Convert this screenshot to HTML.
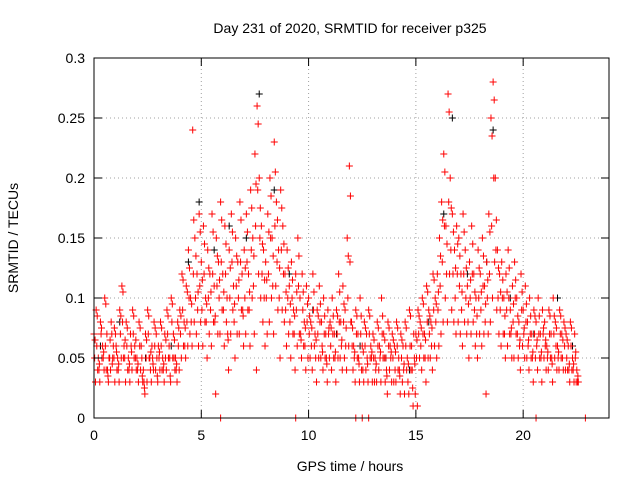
<!DOCTYPE html>
<html><head><meta charset="utf-8"><style>
body{margin:0;background:#fff;}
svg{display:block;font-family:"Liberation Sans",sans-serif;}
</style></head><body>
<svg id="chart" width="640" height="480">
<text x="350" y="33" font-size="14" text-anchor="middle">Day 231 of 2020, SRMTID for receiver p325</text>
<text x="18" y="238" font-size="14" text-anchor="middle" transform="rotate(-90 18 238)">SRMTID / TECUs</text>
<text x="350" y="471" font-size="14" text-anchor="middle">GPS time / hours</text>
<g id="grid"></g>
<g id="marks"></g>
<g id="axes"></g>
</svg>
<script>
const xTicks=[0,5,10,15,20];
const yTicks=[0,0.05,0.1,0.15,0.2,0.25,0.3];
const yTickLabels=["0","0.05","0.1","0.15","0.2","0.25","0.3"];
const sampleStep=0.1;
const seriesA=[.07,.09,.05,.08,.06,.1,.07,.05,.08,.06,
.07,.05,.09,.11,.06,.08,.05,.07,.09,.06,
.05,.08,.06,.04,.07,.09,.05,.06,.08,.07,
.06,.08,.05,.07,.09,.06,.1,.07,.05,.08,
.09,.12,.08,.11,.14,.1,.24,.15,.12,.17,
.13,.16,.1,.14,.12,.17,.11,.15,.13,.18,
.12,.16,.1,.14,.17,.11,.15,.13,.18,.12,
.14,.17,.12,.19,.15,.22,.26,.2,.16,.14,
.13,.17,.2,.15,.23,.18,.14,.19,.16,.12,
.14,.11,.13,.09,.12,.15,.1,.12,.08,.11,
.1,.08,.12,.07,.09,.11,.08,.1,.07,.09,
.08,.1,.07,.09,.12,.08,.11,.09,.15,.21,
.08,.06,.09,.07,.1,.06,.08,.07,.09,.06,
.07,.05,.08,.06,.1,.07,.05,.08,.06,.07,
.06,.08,.05,.07,.06,.08,.05,.09,.06,.07,
.07,.09,.08,.1,.07,.11,.09,.08,.12,.1,
.12,.15,.18,.22,.16,.27,.2,.17,.14,.16,
.15,.12,.17,.14,.11,.13,.16,.12,.1,.14,
.12,.15,.11,.13,.17,.25,.28,.2,.14,.12,
.13,.1,.12,.14,.09,.11,.13,.1,.08,.12,
.09,.11,.08,.1,.07,.09,.08,.1,.07,.09,
.08,.06,.09,.07,.1,.08,.06,.09,.07,.08,
.07,.06,.08,.05,.07,.04];
const seriesB=[.05,.06,.04,.07,.05,.06,.04,.05,.07,.05,
.06,.04,.07,.08,.05,.06,.04,.06,.07,.05,
.04,.06,.05,.03,.05,.07,.04,.05,.06,.05,
.05,.06,.04,.05,.07,.05,.08,.05,.04,.06,
.07,.09,.06,.08,.1,.08,.12,.1,.09,.11,
.09,.12,.08,.1,.09,.12,.08,.11,.1,.13,
.09,.12,.07,.1,.13,.08,.11,.1,.13,.09,
.1,.13,.09,.14,.11,.16,.19,.15,.12,.1,
.1,.12,.15,.11,.16,.13,.1,.14,.12,.09,
.1,.08,.1,.07,.09,.11,.07,.09,.06,.08,
.07,.06,.09,.05,.07,.08,.06,.07,.05,.07,
.06,.07,.05,.07,.08,.06,.08,.06,.1,.13,
.06,.05,.07,.05,.07,.04,.06,.05,.07,.05,
.05,.04,.06,.05,.07,.05,.04,.06,.05,.05,
.04,.06,.04,.05,.04,.06,.03,.06,.04,.05,
.05,.07,.06,.07,.05,.08,.07,.06,.09,.08,
.09,.11,.13,.16,.12,.18,.14,.12,.1,.12,
.11,.09,.12,.1,.08,.1,.12,.09,.07,.1,
.09,.11,.08,.1,.12,.16,.2,.14,.1,.09,
.1,.07,.09,.1,.07,.08,.1,.07,.06,.09,
.07,.08,.06,.07,.05,.07,.06,.07,.05,.07,
.06,.05,.07,.05,.07,.06,.05,.07,.05,.06,
.05,.04,.06,.04,.05,.03];
const seriesC=[.03,.04,.03,.05,.04,.04,.03,.04,.05,.03,
.04,.03,.05,.05,.03,.04,.03,.04,.05,.04,
.03,.04,.03,.02,.03,.05,.03,.04,.04,.03,
.04,.04,.03,.04,.05,.03,.05,.04,.03,.04,
.05,.06,.05,.06,.07,.06,.08,.07,.06,.08,
.06,.08,.05,.07,.06,.08,.02,.07,.07,.09,
.06,.08,.04,.07,.09,.05,.07,.07,.09,.06,
.07,.09,.06,.1,.07,.04,.12,.1,.08,.06,
.07,.08,.1,.07,.11,.09,.05,.09,.08,.06,
.07,.05,.07,.04,.06,.07,.05,.06,.04,.05,
.05,.04,.06,.03,.05,.05,.04,.05,.03,.05,
.04,.05,.03,.05,.05,.04,.05,.04,.06,.08,
.04,.03,.05,.03,.04,.03,.04,.03,.05,.03,
.03,.03,.04,.03,.05,.03,.02,.04,.03,.03,
.03,.04,.02,.03,.02,.04,.02,.04,.01,.02,
.01,.05,.04,.05,.03,.05,.05,.04,.06,.05,
.06,.07,.08,.1,.08,.12,.09,.08,.07,.08,
.07,.06,.08,.07,.05,.07,.08,.06,.05,.07,
.06,.07,.02,.07,.08,.1,.13,.09,.07,.06,
.07,.05,.06,.07,.05,.05,.07,.05,.04,.06,
.05,.05,.04,.05,.03,.05,.04,.05,.03,.05,
.04,.04,.05,.03,.05,.04,.04,.05,.04,.04,
.04,.03,.04,.03,.03,.03];
const seriesD=[.065,.085,.045,.075,.055,.095,.035,.065,.045,.075,
.055,.045,.085,.105,.065,.075,.045,.055,.085,.065,
.045,.075,.035,.025,.065,.085,.055,.045,.075,.035,
.055,.075,.045,.065,.085,.035,.095,.065,.045,.075,
.085,.115,.075,.105,.125,.095,.165,.135,.105,.155,
.115,.145,.095,.125,.105,.155,.085,.135,.115,.165,
.105,.145,.065,.125,.155,.095,.135,.115,.165,.085,
.125,.155,.105,.175,.135,.195,.245,.175,.145,.115,
.115,.155,.185,.135,.205,.165,.125,.175,.145,.105,
.125,.095,.115,.085,.105,.135,.065,.105,.075,.095,
.085,.075,.105,.065,.085,.095,.055,.085,.045,.075,
.075,.085,.055,.085,.105,.065,.095,.075,.135,.185,
.075,.055,.085,.045,.085,.055,.075,.045,.085,.055,
.065,.045,.075,.055,.085,.065,.035,.075,.055,.065,
.055,.075,.035,.065,.045,.075,.045,.085,.025,.045,
.065,.085,.075,.095,.065,.105,.085,.075,.115,.095,
.105,.135,.165,.205,.145,.255,.175,.155,.125,.145,
.135,.105,.155,.125,.095,.115,.145,.105,.085,.125,
.105,.135,.095,.115,.155,.235,.265,.165,.125,.105,
.115,.085,.105,.125,.075,.095,.115,.085,.065,.105,
.075,.095,.065,.085,.055,.085,.065,.085,.055,.075,
.065,.055,.085,.045,.085,.075,.055,.085,.065,.075,
.065,.045,.075,.045,.055,.035];
const seriesOffsets=[0,0.03,0.07,0.05];
const blackTimes=[0.3,1.2,2.4,3.6,4.4,4.9,5.6,6.3,7.1,7.7,8.4,9.1,10.2,11.3,12.4,13.6,14.7,15.6,16.3,16.7,17.4,18.3,18.6,19.4,20.5,21.6,22.3];
const blackVals=[.06,.08,.05,.06,.13,.18,.14,.16,.15,.27,.19,.12,.09,.07,.06,.05,.04,.08,.17,.25,.12,.13,.24,.1,.07,.1,.06];
const zeroTimes=[5.9,9.4,12.2,12.5,12.8,20.6,22.9];

const X0=94,X1=609,Y0=418,Y1=58,XMAX=24,YMAX=0.3;
const sx=v=>X0+(X1-X0)*v/XMAX;
const sy=v=>Y0-(Y0-Y1)*v/YMAX;
const NS="http://www.w3.org/2000/svg";
function mk(tag,attrs,parent){const e=document.createElementNS(NS,tag);for(const k in attrs)e.setAttribute(k,attrs[k]);parent.appendChild(e);return e;}
const grid=document.getElementById('grid'),marks=document.getElementById('marks'),axes=document.getElementById('axes');

yTicks.forEach((t,i)=>{
  const y=sy(t);
  if(i>0&&i<yTicks.length-1){const g=mk('line',{x1:X0,x2:X1,y1:y,y2:y,stroke:'#a0a0a0','stroke-dasharray':'1,3'},grid);
  
  }
  mk('line',{x1:X0,x2:X0+8,y1:y,y2:y,stroke:'#000'},axes);
  mk('line',{x1:X1,x2:X1-8,y1:y,y2:y,stroke:'#000'},axes);
  const l=mk('text',{x:X0-9,y:y+5,'font-size':14,'text-anchor':'end'},axes);
  l.textContent=yTickLabels[i];
  
  
});
xTicks.forEach(t=>{
  const x=sx(t);
  if(t>0){const g=mk('line',{x1:x,x2:x,y1:Y0,y2:Y1,stroke:'#a0a0a0','stroke-dasharray':'1,3'},grid);
  
  }
  mk('line',{x1:x,x2:x,y1:Y0,y2:Y0-8,stroke:'#000'},axes);
  mk('line',{x1:x,x2:x,y1:Y1,y2:Y1+8,stroke:'#000'},axes);
  const l=mk('text',{x:x,y:Y0+22,'font-size':14,'text-anchor':'middle'},axes);
  l.textContent=String(t);
  
  
});
mk('rect',{x:X0,y:Y1,width:X1-X0,height:Y0-Y1,fill:'none',stroke:'#000'},axes);

function plus(t,v,color){
  const x=sx(t),y=sy(v);
  const p=mk('path',{d:`M${x-3.5},${y}H${x+3.5}M${x},${y-3.5}V${y+3.5}`,stroke:color,'stroke-width':1,fill:'none'},marks);
  
  
}
blackTimes.forEach((t,i)=>plus(t,blackVals[i],'#000'));
[seriesA,seriesB,seriesC,seriesD].forEach((s,k)=>s.forEach((v,i)=>plus(i*sampleStep+seriesOffsets[k],v,'#f00')));
zeroTimes.forEach(t=>plus(t,0,'#f00'));
</script>
</body></html>
